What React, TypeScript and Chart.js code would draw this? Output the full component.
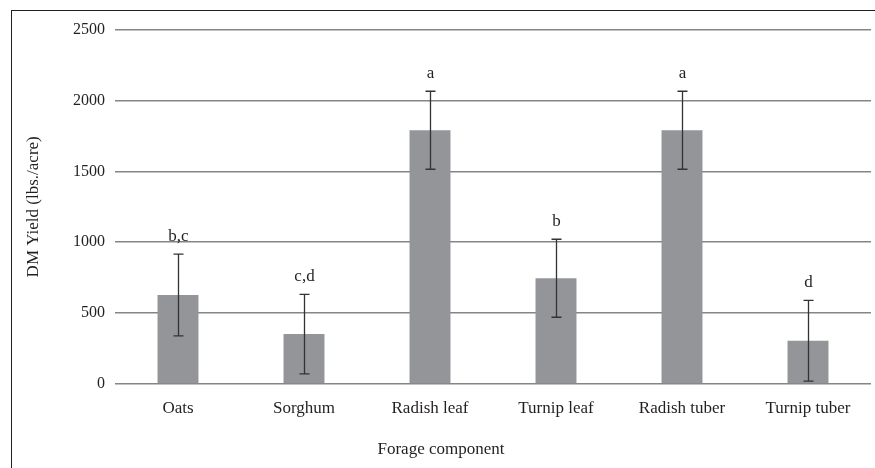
import React, { useEffect, useRef } from "react";
import { Chart, registerables } from "chart.js";

Chart.register(...registerables);

const categories = ["Oats", "Sorghum", "Radish leaf", "Turnip leaf", "Radish tuber", "Turnip tuber"];
const yieldValues = [628, 352, 1790, 746, 1790, 305];
const errorValues = [288, 280, 275, 275, 275, 285];
const letters = ["b,c", "c,d", "a", "b", "a", "d"];
const yTicks = [0, 500, 1000, 1500, 2000, 2500];

const FONT = "'Liberation Serif', 'DejaVu Serif', serif";
const TEXT = "#231f20";

const errorBarPlugin = {
  id: "errorBars",
  afterDatasetsDraw(chart: any) {
    const ctx = chart.ctx;
    const x = chart.scales.x;
    const y = chart.scales.y;
    ctx.save();
    yieldValues.forEach((v, i) => {
      const px = Math.round(x.getPixelForValue(i)) + 0.5;
      const top = y.getPixelForValue(v + errorValues[i]);
      const bot = y.getPixelForValue(v - errorValues[i]);
      ctx.strokeStyle = "#333333";
      ctx.lineWidth = 1.3;
      ctx.beginPath();
      ctx.moveTo(px, top);
      ctx.lineTo(px, bot);
      ctx.moveTo(px - 5, top);
      ctx.lineTo(px + 5, top);
      ctx.moveTo(px - 5, bot);
      ctx.lineTo(px + 5, bot);
      ctx.stroke();
      ctx.fillStyle = TEXT;
      ctx.font = `17px ${FONT}`;
      ctx.textAlign = "center";
      ctx.textBaseline = "alphabetic";
      ctx.fillText(letters[i], px, top - 13);
    });
    ctx.restore();
  },
};

export default function App() {
  const ref = useRef<HTMLCanvasElement>(null);
  useEffect(() => {
    if (!ref.current) return;
    const chart = new Chart(ref.current, {
      type: "bar",
      data: {
        labels: categories,
        datasets: [
          {
            data: yieldValues,
            backgroundColor: "#939598",
            borderWidth: 0,
            categoryPercentage: 1,
            barPercentage: 0.325,
          },
        ],
      },
      options: {
        responsive: false,
        animation: false,
        devicePixelRatio: 1,
        layout: { padding: { left: 0, top: 19, right: 4, bottom: 0 } },
        plugins: {
          legend: { display: false },
          tooltip: { enabled: false },
          title: {
            display: true,
            position: "bottom",
            text: "Forage component",
            color: TEXT,
            font: { family: FONT, size: 17, weight: "normal" },
            padding: { top: 0, bottom: 8 },
          },
        },
        scales: {
          x: {
            grid: { display: false, drawTicks: false },
            border: { display: false },
            ticks: { color: TEXT, font: { family: FONT, size: 17 }, padding: 14 },
            afterFit(scale: any) {
              scale.height = 55.6;
            },
          },
          y: {
            min: 0,
            max: 2500,
            afterBuildTicks(scale: any) {
              scale.ticks = yTicks.map((v) => ({ value: v }));
            },
            grid: { color: "#858585", lineWidth: 1.5, drawTicks: false },
            border: { display: false },
            ticks: {
              color: TEXT,
              font: { family: FONT, size: 16 },
              padding: 10,
              callback: (v: any) => String(v),
            },
            title: {
              display: true,
              text: "DM Yield (lbs./acre)",
              color: TEXT,
              font: { family: FONT, size: 17 },
              padding: { top: 12, bottom: 0 },
            },
            afterFit(scale: any) {
              scale.width = 104;
            },
          },
        },
      },
      plugins: [errorBarPlugin],
    });
    return () => chart.destroy();
  }, []);
  return (
    <div style={{ position: "fixed", left: 0, top: 0, width: 875, height: 468, background: "#fff", overflow: "hidden" }}>
      <div
        style={{
          position: "absolute",
          left: 11,
          top: 10,
          width: 900,
          height: 500,
          borderLeft: "1.5px solid #231f20",
          borderTop: "1.5px solid #231f20",
        }}
      />
      <canvas ref={ref} width={864} height={458} style={{ position: "absolute", left: 11, top: 10 }} />
    </div>
  );
}
